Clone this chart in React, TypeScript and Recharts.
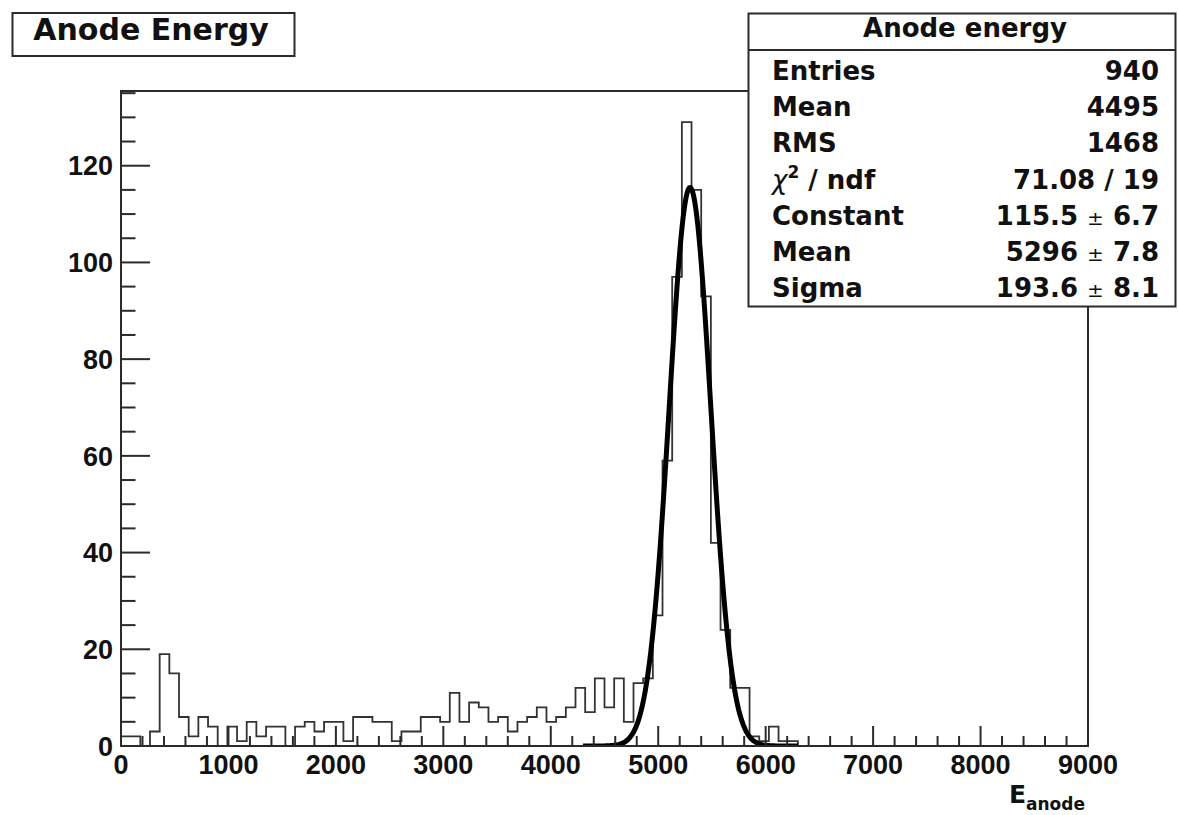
import React from "react";
import { ComposedChart, Line, XAxis, YAxis, ReferenceArea } from "recharts";

// anode energy spectrum, 100 bins of width 90 between 0 and 9000
const binWidth = 90;
const binCounts = [
  2, 2, 0, 3, 19, 15, 6, 2, 6, 4,
  0, 4, 1, 5, 2, 4, 4, 0, 4, 5,
  3, 5, 5, 1, 6, 6, 5, 5, 1, 3,
  3, 6, 6, 5, 11, 5, 9, 8, 5, 6,
  3, 5, 6, 8, 5, 6, 8, 12, 7, 14,
  8, 14, 5, 13, 14, 27, 59, 97, 129, 115,
  93, 42, 24, 12, 12, 2, 1, 4, 1, 1,
  0, 0, 0, 0, 0, 0, 0, 0, 0, 0,
  0, 0, 0, 0, 0, 0, 0, 0, 0, 0,
  0, 0, 0, 0, 0, 0, 0, 0, 0, 0,
];

// gaussian fit result
const fitConstant = 115.5;
const fitMean = 5296;
const fitSigma = 193.6;
const fitRange = [4300, 6300];

const xMax = 9000;
const yMax = 135.45;
const xMajorTicks = [0, 1000, 2000, 3000, 4000, 5000, 6000, 7000, 8000, 9000];
const yMajorTicks = [0, 20, 40, 60, 80, 100, 120];

const statLabels = ["Entries", "Mean", "RMS", "χ² / ndf", "Constant", "Mean", "Sigma"];
const statValues = ["940", "4495", "1468", "71.08 / 19", "115.5 ± 6.7", "5296 ± 7.8", "193.6 ± 8.1"];

const ink = "#2a2a2a";
const font = "'DejaVu Sans', sans-serif";
const axisFont = "'Liberation Sans', Arial, sans-serif";

const histPoints = binCounts.map((c, i) => ({ x: i * binWidth, y: c }));
histPoints.push({ x: binCounts.length * binWidth, y: binCounts[binCounts.length - 1] });

const fitPoints: { x: number; y: number }[] = [];
for (let x = fitRange[0]; x <= fitRange[1]; x += 10) {
  const z = (x - fitMean) / fitSigma;
  fitPoints.push({ x, y: fitConstant * Math.exp(-0.5 * z * z) });
}

const xTicks: number[] = [];
for (let v = 0; v <= xMax; v += 200) xTicks.push(v);
const yTicks: number[] = [];
for (let v = 0; v <= yMax; v += 5) yTicks.push(v);

const labelStyle = { fontFamily: axisFont, fontWeight: 700, fontSize: 27, fill: "#111" };

const XTick = (props: any) => {
  const { x, y, payload } = props;
  const major = xMajorTicks.includes(payload.value);
  return (
    <g>
      <line x1={x} x2={x} y1={y} y2={y - (major ? 20 : 10)} stroke={ink} strokeWidth={2} />
      {major && (
        <text x={x} y={y + 28} textAnchor="middle" style={labelStyle}>
          {payload.value}
        </text>
      )}
    </g>
  );
};

const YTick = (props: any) => {
  const { x, y, payload } = props;
  const major = yMajorTicks.includes(payload.value);
  return (
    <g>
      <line x1={x} x2={x + (major ? 29 : 14.5)} y1={y} y2={y} stroke={ink} strokeWidth={2} />
      {major && (
        <text x={x - 8} y={y + 9.7} textAnchor="end" style={labelStyle}>
          {payload.value}
        </text>
      )}
    </g>
  );
};

function StatValue({ text, x, y }: { text: string; x: number; y: number }) {
  const parts = text.split("±");
  return (
    <text x={x} y={y} textAnchor="end" fontFamily={font} fontWeight={700} fontSize={26} fill="#111">
      {parts.length === 2 ? (
        <>
          {parts[0]}
          <tspan fontWeight={400} fontSize={20}>±</tspan>
          {parts[1]}
        </>
      ) : (
        text
      )}
    </text>
  );
}

function StatLabel({ text, x, y }: { text: string; x: number; y: number }) {
  if (text.startsWith("χ²")) {
    return (
      <text x={x} y={y} fontFamily={font} fontWeight={700} fontSize={26} fill="#111">
        <tspan fontWeight={400} fontStyle="italic">χ</tspan>
        <tspan fontSize={17} dy={-11}>2</tspan>
        <tspan dy={11}>{text.slice(2)}</tspan>
      </text>
    );
  }
  return (
    <text x={x} y={y} fontFamily={font} fontWeight={700} fontSize={26} fill="#111">
      {text}
    </text>
  );
}

export default function App() {
  return (
    <div style={{ position: "absolute", left: 0, top: 0, width: 1178, height: 815, background: "#fff" }}>
      <ComposedChart width={1178} height={815} margin={{ top: 91, right: 90, left: 0, bottom: 0 }}>
        <XAxis
          type="number"
          dataKey="x"
          domain={[0, xMax]}
          ticks={xTicks}
          interval={0}
          height={69}
          tickSize={0}
          tickMargin={0}
          tickLine={false}
          axisLine={{ stroke: ink, strokeWidth: 2 }}
          tick={<XTick />}
          allowDataOverflow
        />
        <YAxis
          type="number"
          domain={[0, yMax]}
          ticks={yTicks}
          interval={0}
          width={121}
          tickSize={0}
          tickMargin={0}
          tickLine={false}
          axisLine={{ stroke: ink, strokeWidth: 2 }}
          tick={<YTick />}
          allowDataOverflow
        />
        <ReferenceArea x1={0} x2={xMax} y1={0} y2={yMax} fill="none" stroke={ink} strokeWidth={2} />
        <Line
          data={histPoints}
          dataKey="y"
          type="stepAfter"
          stroke="#333"
          strokeWidth={1.8}
          dot={false}
          isAnimationActive={false}
        />
        <Line
          data={fitPoints}
          dataKey="y"
          type="linear"
          stroke="#000"
          strokeWidth={5}
          dot={false}
          isAnimationActive={false}
        />
      </ComposedChart>

      <svg width={1178} height={815} style={{ position: "absolute", left: 0, top: 0, pointerEvents: "none" }}>
        {/* histogram title */}
        <rect x={12.5} y={13} width={282} height={43} fill="#fff" stroke={ink} strokeWidth={2} />
        <text x={151} y={40} textAnchor="middle" fontFamily={font} fontWeight={700} fontSize={30} fill="#111">
          Anode Energy
        </text>

        {/* statistics box */}
        <rect x={748.5} y={13.5} width={427} height={293} fill="#fff" stroke={ink} strokeWidth={2} />
        <line x1={748.5} x2={1175.5} y1={50} y2={50} stroke={ink} strokeWidth={2} />
        <text x={965} y={37} textAnchor="middle" fontFamily={font} fontWeight={700} fontSize={26} fill="#111">
          Anode energy
        </text>
        {statLabels.map((l, i) => (
          <StatLabel key={"l" + i} text={l} x={772} y={80 + i * 36.2} />
        ))}
        {statValues.map((v, i) => (
          <StatValue key={"v" + i} text={v} x={1159} y={80 + i * 36.2} />
        ))}

        {/* axis title */}
        <text x={1085} y={803} textAnchor="end" fontFamily={font} fontWeight={700} fontSize={25} fill="#111">
          E
          <tspan fontSize={17} dy={7}>anode</tspan>
        </text>
      </svg>
    </div>
  );
}
